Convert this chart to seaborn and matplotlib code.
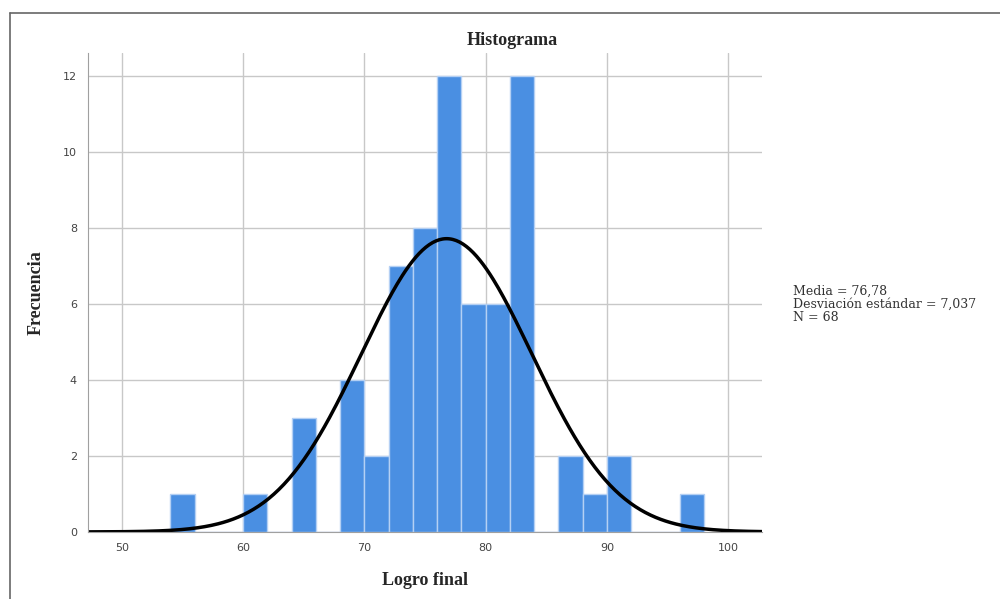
import numpy as np
import pandas as pd
import seaborn as sns
import matplotlib.pyplot as plt
from matplotlib.lines import Line2D

bin_edges = list(range(54, 100, 2))
bin_centers = [55, 61, 65, 69, 71, 73, 75, 77, 79, 81, 83, 87, 89, 91, 97]
frecuencias = [1, 1, 3, 4, 2, 7, 8, 12, 6, 6, 12, 2, 1, 2, 1]

media = 76.78
desv = 7.037
n = 68
ancho = 2

x_ticks = [50, 60, 70, 80, 90, 100]
y_ticks = [0, 2, 4, 6, 8, 10, 12]

df = pd.DataFrame({'Logro final': bin_centers, 'n': frecuencias})

sns.set_style('white')
plt.rcParams['font.family'] = ['Liberation Serif', 'DejaVu Serif']

fig = plt.figure(figsize=(10, 5.99), dpi=100)
ax = fig.add_axes([0.088, 0.112, 0.674, 0.8])

ax.set_axisbelow(True)
ax.grid(True, color='#c8c8c8', linewidth=1)

sns.histplot(data=df, x='Logro final', weights='n', bins=bin_edges, ax=ax,
             color='#4a8fe2', alpha=1, edgecolor='#b4d0f4', linewidth=1)

# curva normal con media, desviacion y N
xs = np.linspace(47.2, 102.8, 400)
ys = n * ancho / (desv * np.sqrt(2 * np.pi)) * np.exp(-0.5 * ((xs - media) / desv) ** 2)
sns.lineplot(x=xs, y=ys, ax=ax, color='black', linewidth=2.5)

ax.set_xlim(47.2, 102.8)
ax.set_ylim(0, 12.6)
ax.set_xticks(x_ticks)
ax.set_yticks(y_ticks)
ax.tick_params(length=0, labelcolor='#444444', pad=8)
for lab in ax.get_xticklabels() + ax.get_yticklabels():
    lab.set_family('DejaVu Sans')
    lab.set_fontsize(8)

for s in ['top', 'right']:
    ax.spines[s].set_visible(False)
ax.spines['left'].set_color('#a0a0a0')
ax.spines['bottom'].set_color('#a0a0a0')

ax.set_xlabel('Logro final', fontsize=13, fontweight='bold', labelpad=14)
ax.set_ylabel('Frecuencia', fontsize=13, fontweight='bold')
ax.yaxis.set_label_coords(-0.065, 0.5)
fig.text(0.512, 0.933, 'Histograma', fontsize=13, fontweight='bold', ha='center', va='center')

fig.text(0.793, 0.525, 'Media = 76,78\nDesviación estándar = 7,037\nN = 68',
         fontsize=9, family='DejaVu Serif', va='top', ha='left',
         linespacing=1.0, color='#333333')

# marco exterior
fig.add_artist(Line2D([0.0095, 1.0], [0.979, 0.979], color='#666666', linewidth=1.2,
                      transform=fig.transFigure))
fig.add_artist(Line2D([0.0095, 0.0095], [0.0, 0.979], color='#666666', linewidth=1.2,
                      transform=fig.transFigure))

fig.savefig('out.png', dpi=100)
